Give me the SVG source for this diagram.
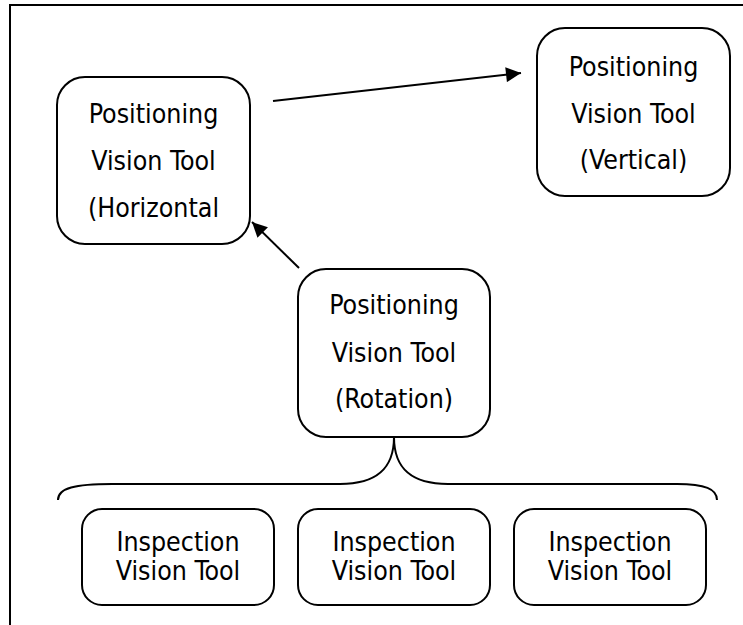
<svg xmlns="http://www.w3.org/2000/svg" width="743" height="625" viewBox="0 0 743 625">
<defs>
<style>
.box{fill:#fff;stroke:#000;stroke-width:2}
.t{font-family:"DejaVu Sans Condensed","DejaVu Sans",sans-serif;font-stretch:condensed;font-size:26.5px;fill:#000;text-anchor:middle}
.ln{fill:none;stroke:#000;stroke-width:2}
</style>
<marker id="ah" viewBox="0 0 10 10" refX="10" refY="5" markerWidth="10" markerHeight="7.5" markerUnits="strokeWidth" orient="auto">
<path d="M0,0 L10,5 L0,10 Z" fill="#000"/>
</marker>
</defs>
<rect width="743" height="625" fill="#fff"/>
<g id="frame">
<path d="M10,625 L10,5 L743,5" fill="none" stroke="#000" stroke-width="2"/>
</g>
<g id="connectors">
<line class="ln" x1="273" y1="101" x2="521" y2="73" marker-end="url(#ah)"/>
<line class="ln" x1="299" y1="268" x2="252" y2="222" marker-end="url(#ah)"/>
<path class="ln" d="M58,500 C58,488 75,484 112,484 L340,484 C375,484 394,470 394,437 C394,470 413,484 448,484 L677,484 C705,484 717,489 717,500"/>
</g>
<g id="node-horizontal">
<rect class="box" x="57" y="77" width="193" height="167" rx="28"/>
<text class="t" x="153.5" y="123">Positioning</text>
<text class="t" x="153.5" y="170">Vision Tool</text>
<text class="t" x="153.5" y="217">(Horizontal</text>
</g>
<g id="node-vertical">
<rect class="box" x="537" y="28" width="193" height="168" rx="28"/>
<text class="t" x="633.5" y="76">Positioning</text>
<text class="t" x="633.5" y="123">Vision Tool</text>
<text class="t" x="633.5" y="169">(Vertical)</text>
</g>
<g id="node-rotation">
<rect class="box" x="298" y="269" width="192" height="168" rx="28"/>
<text class="t" x="394" y="314">Positioning</text>
<text class="t" x="394" y="362">Vision Tool</text>
<text class="t" x="394" y="408">(Rotation)</text>
</g>
<g id="node-inspection-1">
<rect class="box" x="82" y="509" width="192" height="96" rx="20"/>
<text class="t" x="178" y="551">Inspection</text>
<text class="t" x="178" y="580">Vision Tool</text>
</g>
<g id="node-inspection-2">
<rect class="box" x="298" y="509" width="192" height="96" rx="20"/>
<text class="t" x="394" y="551">Inspection</text>
<text class="t" x="394" y="580">Vision Tool</text>
</g>
<g id="node-inspection-3">
<rect class="box" x="514" y="509" width="192" height="96" rx="20"/>
<text class="t" x="610" y="551">Inspection</text>
<text class="t" x="610" y="580">Vision Tool</text>
</g>
</svg>
